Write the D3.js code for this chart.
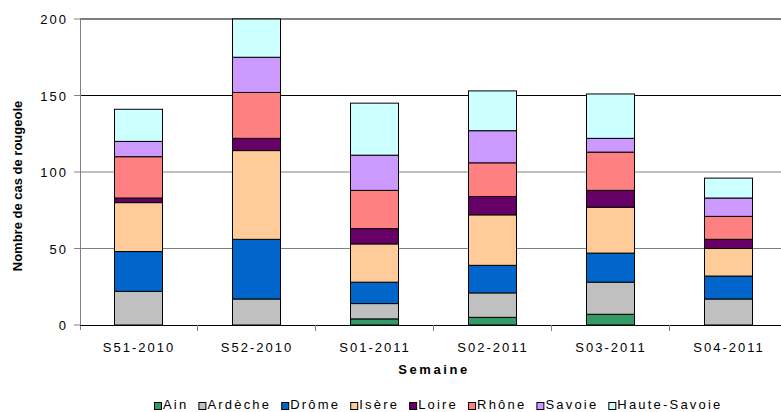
<!DOCTYPE html>
<html>
<head>
<meta charset="utf-8">
<script src="https://cdn.jsdelivr.net/npm/d3@7"></script>
<style>
  body { margin: 0; background: #fff; }
  svg { display: block; font-family: "Liberation Sans", Arial, sans-serif; }
</style>
</head>
<body>
<script>
var weeks = ["S51-2010", "S52-2010", "S01-2011", "S02-2011", "S03-2011", "S04-2011"];
var yTicks = [0, 50, 100, 150, 200];

var ain         = [0, 0, 4, 5, 7, 0];
var ardeche     = [22, 17, 10, 16, 21, 17];
var drome       = [26, 39, 14, 18, 19, 15];
var isere       = [32, 58, 25, 33, 30, 18];
var loire       = [3, 8, 10, 12, 11, 6];
var rhone       = [27, 30, 25, 22, 25, 15];
var savoie      = [10, 23, 23, 21, 9, 12];
var hauteSavoie = [21, 25, 34, 26, 29, 13];

var names  = ["Ain", "Ardèche", "Drôme", "Isère", "Loire", "Rhône", "Savoie", "Haute-Savoie"];
var series = [ain, ardeche, drome, isere, loire, rhone, savoie, hauteSavoie];
var colors = ["#339966", "#c0c0c0", "#0066cc", "#ffcc99", "#660066", "#ff8080", "#cc99ff", "#ccffff"];

var width = 781, height = 412;

// table for d3.stack
var rows = weeks.map(function(w, i) {
  var r = { week: w };
  names.forEach(function(n, k) { r[n] = series[k][i]; });
  return r;
});

var svg = d3.select("body").append("svg")
  .attr("width", width).attr("height", height);

var x = d3.scaleBand().domain(weeks).range([79, 787])
  .paddingInner(0.593).paddingOuter(0.2966);
var y = d3.scaleLinear().domain([0, 200]).range([325, 19]);

// gridlines
svg.append("g").selectAll("line")
  .data(yTicks.filter(function(d) { return d > 0; }))
  .enter().append("line")
    .attr("x1", 80).attr("x2", width)
    .attr("y1", function(d) { return y(d); })
    .attr("y2", function(d) { return y(d); })
    .attr("stroke", function(d) { return (d == 50 || d == 100) ? "#808080" : "#000"; })
    .attr("stroke-width", 1);

// y axis
svg.append("line")
  .attr("x1", 80.5).attr("x2", 80.5).attr("y1", y(200)).attr("y2", 330)
  .attr("stroke", "#808080");

svg.append("g").selectAll("line")
  .data(yTicks).enter().append("line")
    .attr("x1", 74).attr("x2", 80)
    .attr("y1", function(d) { return y(d); })
    .attr("y2", function(d) { return y(d); })
    .attr("stroke", "#808080");

svg.append("g").selectAll("text")
  .data(yTicks).enter().append("text")
    .attr("x", 68)
    .attr("y", function(d) { return y(d) + 5; })
    .attr("text-anchor", "end")
    .style("font-size", "13px")
    .style("letter-spacing", "2px")
    .text(function(d) { return d; });

// bars
var stack = d3.stack().keys(names)(rows);

svg.append("g").selectAll("g")
  .data(stack).enter().append("g")
    .attr("fill", function(d, i) { return colors[i]; })
  .selectAll("rect")
  .data(function(d) { return d; })
  .enter().append("rect")
    .attr("x", function(d) { return Math.round(x(d.data.week)) + 0.5; })
    .attr("y", function(d) { return y(d[1]); })
    .attr("width", Math.round(x.bandwidth()))
    .attr("height", function(d) { return y(d[0]) - y(d[1]); })
    .attr("stroke", "#000")
    .attr("stroke-width", 1);

// x axis
svg.append("line")
  .attr("x1", 80).attr("x2", width).attr("y1", 325.5).attr("y2", 325.5)
  .attr("stroke", "#000");

svg.append("g").selectAll("line")
  .data(weeks).enter().append("line")
    .attr("x1", function(d) { return Math.round(x(d) + x.bandwidth() / 2 + x.step() / 2) + 0.5; })
    .attr("x2", function(d) { return Math.round(x(d) + x.bandwidth() / 2 + x.step() / 2) + 0.5; })
    .attr("y1", 325).attr("y2", 331)
    .attr("stroke", "#808080");

svg.append("g").selectAll("text")
  .data(weeks).enter().append("text")
    .attr("x", function(d) { return x(d) + x.bandwidth() / 2 + 1; })
    .attr("y", 352)
    .attr("text-anchor", "middle")
    .style("font-size", "13px")
    .style("letter-spacing", "2px")
    .text(function(d) { return d; });

// axis titles
svg.append("text")
  .attr("x", 434).attr("y", 374)
  .attr("text-anchor", "middle")
  .style("font-size", "13px")
  .style("font-weight", "bold")
  .style("letter-spacing", "2.6px")
  .text("Semaine");

svg.append("text")
  .attr("transform", "translate(22,186) rotate(-90)")
  .attr("text-anchor", "middle")
  .style("font-size", "13px")
  .style("font-weight", "bold")
  .text("Nombre de cas de rougeole");

// legend
var legend = svg.append("g");
var lx = 0;
names.forEach(function(n, i) {
  var item = legend.append("g").attr("transform", "translate(" + lx + ",0)");
  item.append("rect")
    .attr("x", 0.5).attr("y", 402.5).attr("width", 7).attr("height", 7)
    .attr("fill", colors[i]).attr("stroke", "#000");
  var t = item.append("text")
    .attr("x", 9).attr("y", 409)
    .style("font-size", "13px")
    .style("letter-spacing", "2.2px")
    .text(n);
  lx += 9 + t.node().getComputedTextLength() + 10;
});
legend.attr("transform", "translate(" + Math.round(438 - (lx - 10) / 2) + ",0)");
</script>
</body>
</html>
